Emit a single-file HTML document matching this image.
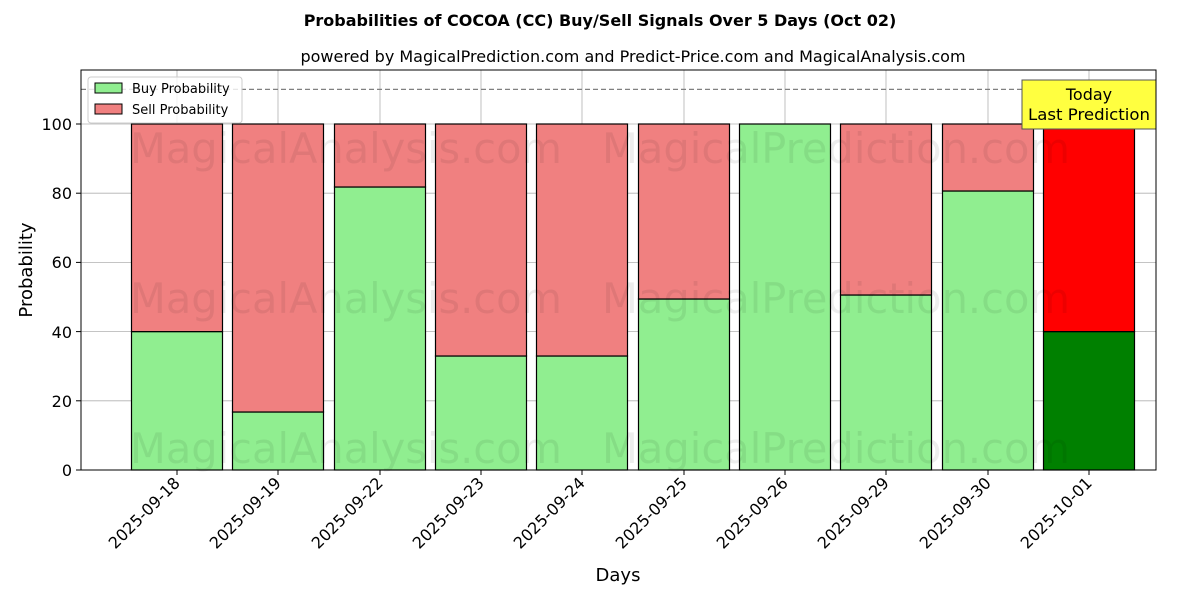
<!DOCTYPE html>
<html><head><meta charset="utf-8"><style>body{margin:0;background:#fff}svg{display:block}</style></head><body>
<svg width="1200" height="600" xmlns="http://www.w3.org/2000/svg" font-family="'DejaVu Sans','Liberation Sans',sans-serif">
<rect width="1200" height="600" fill="#fff"/>
<text x="600" y="26" text-anchor="middle" font-size="16" font-weight="bold">Probabilities of COCOA (CC) Buy/Sell Signals Over 5 Days (Oct 02)</text>
<text x="633" y="62" text-anchor="middle" font-size="16">powered by MagicalPrediction.com and Predict-Price.com and MagicalAnalysis.com</text>
<g stroke="#b0b0b0" stroke-width="0.8">
<line x1="177" y1="70" x2="177" y2="470"/><line x1="278" y1="70" x2="278" y2="470"/><line x1="380" y1="70" x2="380" y2="470"/><line x1="481" y1="70" x2="481" y2="470"/><line x1="582" y1="70" x2="582" y2="470"/><line x1="684" y1="70" x2="684" y2="470"/><line x1="785" y1="70" x2="785" y2="470"/><line x1="886" y1="70" x2="886" y2="470"/><line x1="988" y1="70" x2="988" y2="470"/><line x1="1089" y1="70" x2="1089" y2="470"/>
<line x1="81" y1="124" x2="1156" y2="124"/><line x1="81" y1="193.2" x2="1156" y2="193.2"/><line x1="81" y1="262.4" x2="1156" y2="262.4"/><line x1="81" y1="331.6" x2="1156" y2="331.6"/><line x1="81" y1="400.8" x2="1156" y2="400.8"/>
</g>
<g stroke="#000" stroke-width="1.2">
<rect x="131.5" y="331.6" width="91" height="138.4" fill="#90ee90"/><rect x="131.5" y="124" width="91" height="207.6" fill="#f08080"/>
<rect x="232.5" y="412" width="91" height="58" fill="#90ee90"/><rect x="232.5" y="124" width="91" height="288" fill="#f08080"/>
<rect x="334.5" y="187" width="91" height="283" fill="#90ee90"/><rect x="334.5" y="124" width="91" height="63" fill="#f08080"/>
<rect x="435.5" y="356" width="91" height="114" fill="#90ee90"/><rect x="435.5" y="124" width="91" height="232" fill="#f08080"/>
<rect x="536.5" y="356" width="91" height="114" fill="#90ee90"/><rect x="536.5" y="124" width="91" height="232" fill="#f08080"/>
<rect x="638.5" y="299" width="91" height="171" fill="#90ee90"/><rect x="638.5" y="124" width="91" height="175" fill="#f08080"/>
<rect x="739.5" y="124" width="91" height="346" fill="#90ee90"/>
<rect x="840.5" y="295" width="91" height="175" fill="#90ee90"/><rect x="840.5" y="124" width="91" height="171" fill="#f08080"/>
<rect x="942.5" y="191" width="91" height="279" fill="#90ee90"/><rect x="942.5" y="124" width="91" height="67" fill="#f08080"/>
<rect x="1043.5" y="331.6" width="91" height="138.4" fill="#008000"/><rect x="1043.5" y="124" width="91" height="207.6" fill="#ff0000"/>
</g>
<g font-size="42" fill="#000" fill-opacity="0.07">
<text x="130" y="163" textLength="432" lengthAdjust="spacingAndGlyphs">MagicalAnalysis.com</text><text x="602" y="163" textLength="468" lengthAdjust="spacingAndGlyphs">MagicalPrediction.com</text>
<text x="130" y="313" textLength="432" lengthAdjust="spacingAndGlyphs">MagicalAnalysis.com</text><text x="602" y="313" textLength="468" lengthAdjust="spacingAndGlyphs">MagicalPrediction.com</text>
<text x="130" y="463" textLength="432" lengthAdjust="spacingAndGlyphs">MagicalAnalysis.com</text><text x="602" y="463" textLength="468" lengthAdjust="spacingAndGlyphs">MagicalPrediction.com</text>
</g>
<line x1="81" y1="89.4" x2="1156" y2="89.4" stroke="#808080" stroke-width="1.2" stroke-dasharray="5,3"/>
<rect x="1022" y="80" width="134" height="49" fill="#ffff40" stroke="#555" stroke-width="1"/>
<text x="1089" y="100" text-anchor="middle" font-size="16">Today</text>
<text x="1089" y="120" text-anchor="middle" font-size="16" textLength="122" lengthAdjust="spacingAndGlyphs">Last Prediction</text>
<rect x="81" y="70" width="1075" height="400" fill="none" stroke="#000" stroke-width="1"/>
<rect x="88" y="77" width="154" height="46" fill="#fff" fill-opacity="0.8" stroke="#ccc" rx="3"/>
<rect x="95" y="83" width="27" height="10" fill="#90ee90" stroke="#000"/><text x="132" y="93" font-size="13">Buy Probability</text>
<rect x="95" y="104" width="27" height="10" fill="#f08080" stroke="#000"/><text x="132" y="114" font-size="13">Sell Probability</text>
<g font-size="16" text-anchor="end">
<text x="72" y="476">0</text><text x="72" y="407">20</text><text x="72" y="338">40</text><text x="72" y="268">60</text><text x="72" y="199">80</text><text x="72" y="130">100</text>
</g>
<g stroke="#000"><line x1="76" y1="470" x2="81" y2="470"/><line x1="76" y1="400.8" x2="81" y2="400.8"/><line x1="76" y1="331.6" x2="81" y2="331.6"/><line x1="76" y1="262.4" x2="81" y2="262.4"/><line x1="76" y1="193.2" x2="81" y2="193.2"/><line x1="76" y1="124" x2="81" y2="124"/>
<line x1="177" y1="470" x2="177" y2="475"/><line x1="278" y1="470" x2="278" y2="475"/><line x1="380" y1="470" x2="380" y2="475"/><line x1="481" y1="470" x2="481" y2="475"/><line x1="582" y1="470" x2="582" y2="475"/><line x1="684" y1="470" x2="684" y2="475"/><line x1="785" y1="470" x2="785" y2="475"/><line x1="886" y1="470" x2="886" y2="475"/><line x1="988" y1="470" x2="988" y2="475"/><line x1="1089" y1="470" x2="1089" y2="475"/></g>
<g font-size="16" text-anchor="end">
<text transform="translate(181,484) rotate(-45)">2025-09-18</text>
<text transform="translate(282,484) rotate(-45)">2025-09-19</text>
<text transform="translate(384,484) rotate(-45)">2025-09-22</text>
<text transform="translate(485,484) rotate(-45)">2025-09-23</text>
<text transform="translate(586,484) rotate(-45)">2025-09-24</text>
<text transform="translate(688,484) rotate(-45)">2025-09-25</text>
<text transform="translate(789,484) rotate(-45)">2025-09-26</text>
<text transform="translate(890,484) rotate(-45)">2025-09-29</text>
<text transform="translate(992,484) rotate(-45)">2025-09-30</text>
<text transform="translate(1093,484) rotate(-45)">2025-10-01</text>
</g>
<text x="618" y="581" text-anchor="middle" font-size="18">Days</text>
<text transform="translate(32,270) rotate(-90)" text-anchor="middle" font-size="18">Probability</text>
</svg>
</body></html>
